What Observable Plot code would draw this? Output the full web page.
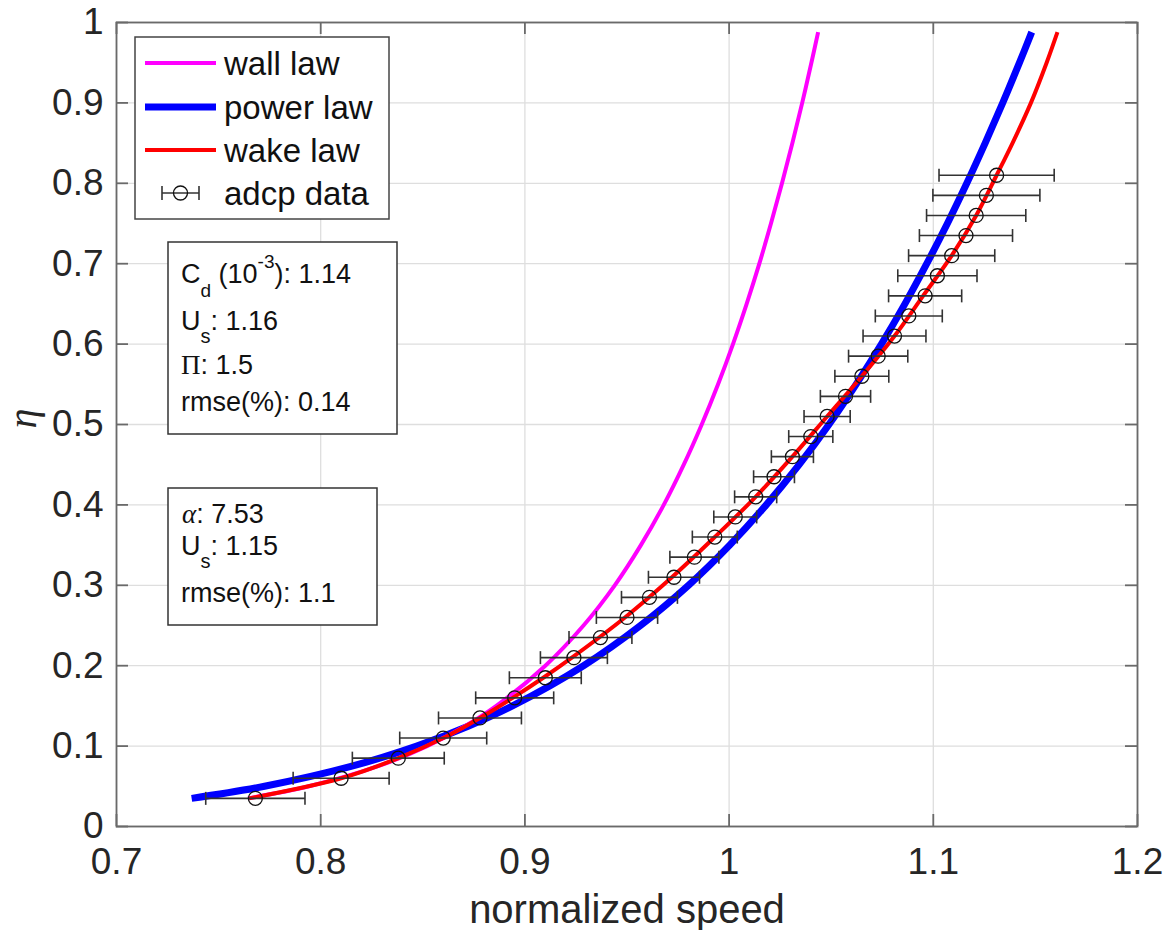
<!DOCTYPE html>
<html><head><meta charset="utf-8">
<script src="https://cdn.jsdelivr.net/npm/d3@7"></script>
<script src="https://cdn.jsdelivr.net/npm/@observablehq/plot@0.6"></script>
<style>body{margin:0;background:#fff;} svg{display:block} text{white-space:pre}</style>
</head><body><div id="chart"></div>
<script>
// ADCP data (normalized depth, normalized speed, speed uncertainty)
const adcpEta = [0.035,0.06,0.085,0.11,0.135,0.16,0.185,0.21,0.235,0.26,0.285,0.31,0.335,0.36,0.385,0.41,0.435,0.46,0.485,0.51,0.535,0.56,0.585,0.61,0.635,0.66,0.685,0.71,0.735,0.76,0.785,0.81];
const adcpSpeed = [0.768,0.810,0.838,0.860,0.878,0.895,0.910,0.924,0.937,0.950,0.961,0.973,0.983,0.993,1.003,1.013,1.022,1.031,1.040,1.048,1.057,1.065,1.073,1.081,1.088,1.096,1.102,1.109,1.116,1.121,1.126,1.131];
const adcpErr = [0.0243,0.0235,0.0225,0.0213,0.0203,0.0191,0.0176,0.0164,0.0154,0.0150,0.0137,0.0125,0.0120,0.0110,0.0105,0.0103,0.0100,0.0103,0.0108,0.0113,0.0123,0.0132,0.0145,0.0154,0.0164,0.0179,0.0194,0.0211,0.0228,0.0243,0.0262,0.0282];

// Wall law curve
const wallEta = [0.035,0.05,0.075,0.1,0.125,0.15,0.2,0.25,0.3,0.35,0.4,0.45,0.5,0.55,0.6,0.65,0.7,0.75,0.8,0.85,0.9,0.95,0.988];
const wallSpeed = [0.7643,0.7942,0.8281,0.8521,0.8708,0.8860,0.9100,0.9287,0.9440,0.9568,0.9680,0.9778,0.9866,0.9946,1.0019,1.0086,1.0148,1.0205,1.0259,1.0310,1.0358,1.0403,1.0436];

// Power law curve
const powerEta = [0.035,0.05,0.075,0.1,0.125,0.15,0.2,0.25,0.3,0.35,0.4,0.45,0.5,0.55,0.6,0.65,0.7,0.75,0.8,0.85,0.9,0.95,0.988];
const powerSpeed = [0.7368,0.7725,0.8153,0.8470,0.8725,0.8939,0.9287,0.9566,0.9801,1.0003,1.0182,1.0343,1.0489,1.0622,1.0746,1.0861,1.0968,1.1069,1.1164,1.1254,1.1340,1.1422,1.1482];

// Wake law curve
const wakeEta = [0.035,0.06,0.085,0.11,0.135,0.16,0.185,0.21,0.26,0.31,0.36,0.41,0.46,0.51,0.56,0.61,0.66,0.71,0.76,0.81,0.85,0.9,0.95,0.988];
const wakeSpeed = [0.765,0.810,0.838,0.860,0.878,0.894,0.909,0.923,0.949,0.972,0.993,1.013,1.031,1.048,1.065,1.081,1.095,1.109,1.121,1.131,1.1388,1.1478,1.1555,1.1608];

const xTicks = [0.7,0.8,0.9,1,1.1,1.2];
const xTickLabels = ["0.7","0.8","0.9","1","1.1","1.2"];
const yTicks = [0,0.1,0.2,0.3,0.4,0.5,0.6,0.7,0.8,0.9,1];
const yTickLabels = ["0","0.1","0.2","0.3","0.4","0.5","0.6","0.7","0.8","0.9","1"];

const legendLabels = ["wall law","power law","wake law","adcp data"];
const legendColors = ["#ff00ff","#0000ff","#ff0000","#222"];

const adcp = adcpEta.map((e,i)=>({eta:e, speed:adcpSpeed[i], err:adcpErr[i]}));
const wall = wallEta.map((e,i)=>({eta:e, speed:wallSpeed[i]}));
const power = powerEta.map((e,i)=>({eta:e, speed:powerSpeed[i]}));
const wake = wakeEta.map((e,i)=>({eta:e, speed:wakeSpeed[i]}));

const W=1173, H=930, mL=116, mR=36, mT=22, mB=104;
const innerH = H-mT-mB, innerW = W-mL-mR, tickLen = 12;
const axisColor = "#6a6a6a";
const gridStyle = {stroke:"#dedede", strokeOpacity:1, strokeWidth:1.3};
const tickStyle = {stroke:axisColor, strokeWidth:1.8};
const capSymbol = {draw(ctx, size){ const r = Math.sqrt(size/Math.PI); ctx.moveTo(0,-r); ctx.lineTo(0,r); }};
const font = "'Liberation Sans', Arial, Helvetica, sans-serif";

const chart = Plot.plot({
  width:W, height:H, marginLeft:mL, marginRight:mR, marginTop:mT, marginBottom:mB,
  style:{fontFamily:font, background:"#fff", color:"#262626"},
  x:{domain:[0.7,1.2]},
  y:{domain:[0,1]},
  marks:[
    Plot.gridX(xTicks, gridStyle),
    Plot.gridY(yTicks, gridStyle),
    Plot.tickX(xTicks, {x:d=>d, insetTop:innerH-tickLen, ...tickStyle}),
    Plot.tickX(xTicks, {x:d=>d, insetBottom:innerH-tickLen, ...tickStyle}),
    Plot.tickY(yTicks, {y:d=>d, insetRight:innerW-tickLen, ...tickStyle}),
    Plot.tickY(yTicks, {y:d=>d, insetLeft:innerW-tickLen, ...tickStyle}),
    Plot.frame({stroke:axisColor, strokeWidth:1.8}),
    Plot.axisX(xTicks, {tickSize:0, tickPadding:21, fontSize:37, fill:"#262626", tickFormat:d=>xTickLabels[xTicks.indexOf(d)], label:null}),
    Plot.axisY(yTicks, {tickSize:0, tickPadding:13, fontSize:37, fill:"#262626", tickFormat:d=>yTickLabels[yTicks.indexOf(d)], label:null}),
    Plot.line(power, {x:"speed", y:"eta", stroke:"#0000ff", strokeWidth:7, curve:"catmull-rom", strokeLinecap:"butt"}),
    Plot.line(wall, {x:"speed", y:"eta", stroke:"#ff00ff", strokeWidth:4, curve:"catmull-rom", strokeLinecap:"butt"}),
    Plot.line(wake, {x:"speed", y:"eta", stroke:"#ff0000", strokeWidth:4, curve:"catmull-rom", strokeLinecap:"butt"}),
    Plot.link(adcp, {x1:d=>d.speed-d.err, x2:d=>d.speed+d.err, y1:"eta", y2:"eta", stroke:"#333", strokeWidth:1.6}),
    Plot.dot(adcp, {x:d=>d.speed-d.err, y:"eta", symbol:capSymbol, r:6.5, stroke:"#333", strokeWidth:1.6, fill:"none"}),
    Plot.dot(adcp, {x:d=>d.speed+d.err, y:"eta", symbol:capSymbol, r:6.5, stroke:"#333", strokeWidth:1.6, fill:"none"}),
    Plot.dot(adcp, {x:"speed", y:"eta", r:7, stroke:"#111", strokeWidth:1.3, fill:"none"}),
    Plot.text(["normalized speed"], {frameAnchor:"bottom", dy:96, lineAnchor:"bottom", fontSize:40, fill:"#262626"}),
    Plot.text(["η"], {frameAnchor:"left", dx:-81, dy:4, rotate:-90, lineAnchor:"bottom", fontSize:40, fontStyle:"italic", fontFamily:"'Liberation Serif', 'DejaVu Serif', serif", fill:"#262626"})
  ]
});
document.getElementById("chart").appendChild(chart);

const svg = d3.select(chart);

// Legend
const lg = svg.append("g").attr("text-anchor","start");
lg.append("rect").attr("x",135).attr("y",37).attr("width",254).attr("height",182)
  .attr("fill","#fff").attr("stroke","#444").attr("stroke-width",1.5);
const legY = [63,107,150,193];
const legW = [4,7,4,0];
legendLabels.forEach((lab,i)=>{
  if (i<3) {
    lg.append("line").attr("x1",145).attr("x2",216).attr("y1",legY[i]).attr("y2",legY[i])
      .attr("stroke",legendColors[i]).attr("stroke-width",legW[i]);
  } else {
    lg.append("line").attr("x1",162).attr("x2",199).attr("y1",legY[i]).attr("y2",legY[i]).attr("stroke","#333").attr("stroke-width",1.6);
    lg.append("line").attr("x1",162).attr("x2",162).attr("y1",legY[i]-7).attr("y2",legY[i]+7).attr("stroke","#333").attr("stroke-width",1.6);
    lg.append("line").attr("x1",199).attr("x2",199).attr("y1",legY[i]-7).attr("y2",legY[i]+7).attr("stroke","#333").attr("stroke-width",1.6);
    lg.append("circle").attr("cx",180.5).attr("cy",legY[i]).attr("r",7).attr("fill","none").attr("stroke","#111").attr("stroke-width",1.3);
  }
  lg.append("text").attr("x",224).attr("y",legY[i]+12).attr("text-anchor","start").attr("font-family",font).attr("font-size",33).attr("fill","#111").text(lab);
});

// Rich text helper
function richText(parent, x, y, parts){
  const t = parent.append("text").attr("x",x).attr("y",y).attr("text-anchor","start").attr("font-family",font).attr("font-size",27).attr("fill","#111");
  let shift = 0;
  for (const p of parts){
    const s = p.shift || 0;
    const ts = t.append("tspan").attr("dy", s-shift).text(p.t);
    shift = s;
    if (p.size) ts.attr("font-size", p.size);
    if (p.family) ts.attr("font-family", p.family);
    if (p.style) ts.attr("font-style", p.style);
  }
}
const serif = "'Liberation Serif', 'DejaVu Serif', serif";

// Wake law box
const b1 = svg.append("g").attr("text-anchor","start");
b1.append("rect").attr("x",168).attr("y",242).attr("width",229).attr("height",192).attr("fill","#fff").attr("stroke","#333").attr("stroke-width",1.5);
richText(b1,181,283,[{t:"C"},{t:"d",size:19,shift:14},{t:" (10"},{t:"-3",size:19,shift:-15},{t:"): 1.14"}]);
richText(b1,181,330,[{t:"U"},{t:"s",size:20,shift:13},{t:": 1.16"}]);
richText(b1,181,374,[{t:"Π",family:serif},{t:": 1.5"}]);
richText(b1,181,411,[{t:"rmse(%): 0.14"}]);

// Power law box
const b2 = svg.append("g").attr("text-anchor","start");
b2.append("rect").attr("x",168).attr("y",488).attr("width",209).attr("height",137).attr("fill","#fff").attr("stroke","#333").attr("stroke-width",1.5);
richText(b2,182,523,[{t:"α",family:serif,style:"italic"},{t:": 7.53"}]);
richText(b2,181,555,[{t:"U"},{t:"s",size:20,shift:13},{t:": 1.15"}]);
richText(b2,181,602,[{t:"rmse(%): 1.1"}]);
</script>
</body></html>
